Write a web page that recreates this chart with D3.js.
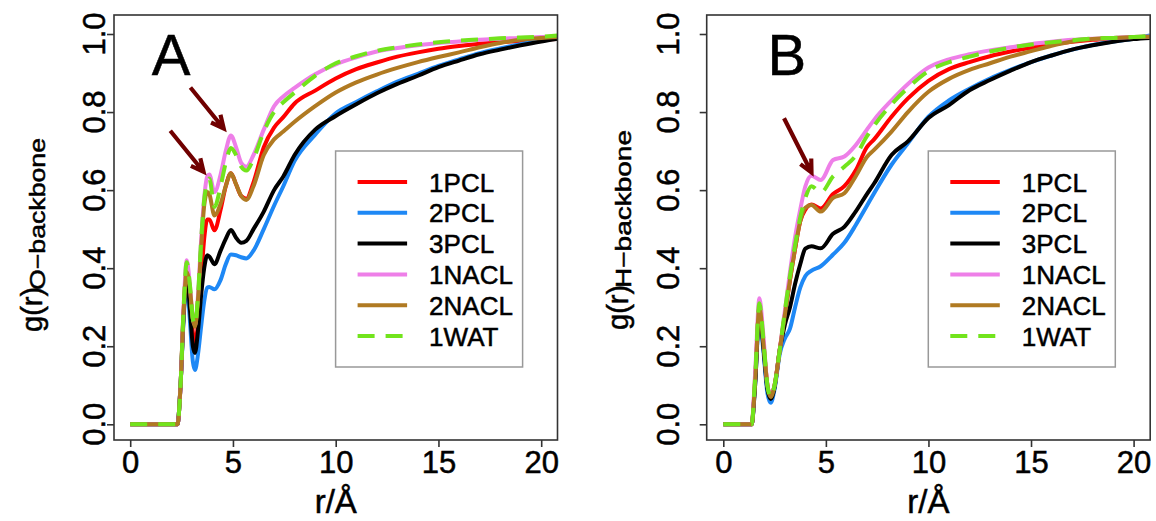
<!DOCTYPE html>
<html lang="en">
<head>
<meta charset="UTF-8" />
<title>g(r) backbone</title>
<script src="https://cdn.jsdelivr.net/npm/d3@7"></script>
<style>
  body { margin: 0; padding: 0; background: #fff; }
  svg text { font-family: "Liberation Sans", Arial, sans-serif; fill: #000; stroke: #000; stroke-width: 0.5px; }
</style>
</head>
<body>
<svg id="chart" width="1156" height="521"></svg>
<script>
// legend / series
const seriesNames = ["1PCL", "2PCL", "3PCL", "1NACL", "2NACL", "1WAT"];
const seriesColors = ["#ff0000", "#1e88f5", "#000000", "#ee7fe8", "#b07a22", "#72e41c"];
const xTicks = [0, 5, 10, 15, 20];
const yTicks = [0, 0.2, 0.4, 0.6, 0.8, 1.0];
const yTickLabels = ["0.0", "0.2", "0.4", "0.6", "0.8", "1.0"];

// panel A : g(r) O-backbone
const rA = [0, 2.3, 2.45, 2.6, 2.75, 2.9, 3.05, 3.15, 3.3, 3.45, 3.6, 3.75, 3.85, 4.1, 4.4, 4.65, 4.9, 5.15, 5.4, 5.65,
  6.0, 6.5, 7.0, 7.45, 8.0, 9.0, 10, 11, 12, 13, 14, 15, 16, 17, 18, 19, 20, 20.8];
const pcl1A = [0, 0, 0.10, 0.29, 0.40, 0.33, 0.235, 0.205, 0.26, 0.37, 0.475, 0.525, 0.525, 0.497, 0.55, 0.61, 0.643, 0.615, 0.585, 0.578,
  0.62, 0.71, 0.76, 0.787, 0.822, 0.855, 0.886, 0.91, 0.927, 0.942, 0.953, 0.962, 0.969, 0.975, 0.979, 0.983, 0.986, 0.987];
const pcl2A = [0, 0, 0.10, 0.27, 0.37, 0.27, 0.16, 0.139, 0.18, 0.25, 0.315, 0.35, 0.352, 0.346, 0.37, 0.41, 0.435, 0.433, 0.428, 0.425,
  0.445, 0.50, 0.56, 0.61, 0.675, 0.742, 0.797, 0.826, 0.853, 0.878, 0.898, 0.918, 0.935, 0.951, 0.963, 0.974, 0.985, 0.995];
const pcl3A = [0, 0, 0.10, 0.28, 0.38, 0.30, 0.20, 0.183, 0.24, 0.33, 0.40, 0.433, 0.43, 0.41, 0.445, 0.475, 0.498, 0.478, 0.465, 0.47,
  0.50, 0.545, 0.60, 0.635, 0.69, 0.755, 0.79, 0.82, 0.848, 0.872, 0.893, 0.915, 0.932, 0.948, 0.96, 0.971, 0.981, 0.988];
const nacl1A = [0, 0, 0.10, 0.30, 0.42, 0.36, 0.27, 0.255, 0.33, 0.47, 0.58, 0.635, 0.64, 0.595, 0.64, 0.70, 0.74, 0.71, 0.67, 0.66,
  0.69, 0.755, 0.815, 0.84, 0.862, 0.897, 0.922, 0.94, 0.955, 0.964, 0.971, 0.977, 0.981, 0.985, 0.988, 0.99, 0.992, 0.993];
const nacl2A = [0, 0, 0.10, 0.29, 0.39, 0.35, 0.27, 0.25, 0.32, 0.45, 0.56, 0.595, 0.59, 0.535, 0.565, 0.61, 0.643, 0.615, 0.585, 0.575,
  0.61, 0.69, 0.73, 0.75, 0.775, 0.815, 0.85, 0.876, 0.896, 0.913, 0.928, 0.941, 0.953, 0.966, 0.977, 0.985, 0.99, 0.992];
const wat1A = [0, 0, 0.10, 0.30, 0.415, 0.36, 0.27, 0.255, 0.33, 0.47, 0.575, 0.62, 0.63, 0.557, 0.61, 0.67, 0.708, 0.69, 0.66, 0.65,
  0.68, 0.75, 0.80, 0.825, 0.85, 0.893, 0.925, 0.943, 0.957, 0.966, 0.973, 0.979, 0.983, 0.986, 0.989, 0.991, 0.993, 0.996];

// panel B : g(r) H-backbone
const rB = [0, 1.38, 1.55, 1.76, 1.95, 2.15, 2.31, 2.5, 2.75, 3.0, 3.25, 3.5, 3.75, 4.0, 4.3, 4.75, 5.35, 5.9, 6.45, 7.0,
  7.35, 8.2, 9.0, 10, 11, 12, 13, 14, 15, 16, 17, 18, 19, 20, 20.8];
const pcl1B = [0, 0, 0.11, 0.30, 0.21, 0.10, 0.07, 0.10, 0.19, 0.28, 0.37, 0.45, 0.52, 0.55, 0.563, 0.553, 0.59, 0.61, 0.65, 0.71,
  0.73, 0.788, 0.835, 0.88, 0.91, 0.928, 0.943, 0.955, 0.965, 0.973, 0.98, 0.985, 0.988, 0.99, 0.99];
const pcl2B = [0, 0, 0.10, 0.28, 0.19, 0.08, 0.055, 0.09, 0.18, 0.22, 0.245, 0.30, 0.35, 0.38, 0.394, 0.405, 0.435, 0.465, 0.51, 0.56,
  0.592, 0.665, 0.72, 0.788, 0.83, 0.86, 0.886, 0.908, 0.928, 0.945, 0.96, 0.972, 0.981, 0.988, 0.996];
const pcl3B = [0, 0, 0.10, 0.29, 0.20, 0.09, 0.065, 0.095, 0.19, 0.255, 0.30, 0.36, 0.41, 0.45, 0.456, 0.451, 0.488, 0.506, 0.545, 0.59,
  0.617, 0.69, 0.725, 0.785, 0.818, 0.856, 0.882, 0.906, 0.928, 0.945, 0.96, 0.971, 0.98, 0.987, 0.99];
const nacl1B = [0, 0, 0.13, 0.323, 0.23, 0.10, 0.075, 0.10, 0.19, 0.29, 0.39, 0.48, 0.55, 0.61, 0.637, 0.626, 0.677, 0.686, 0.715, 0.755,
  0.78, 0.83, 0.872, 0.914, 0.935, 0.948, 0.958, 0.966, 0.974, 0.98, 0.985, 0.988, 0.99, 0.992, 0.993];
const nacl2B = [0, 0, 0.11, 0.30, 0.21, 0.10, 0.07, 0.10, 0.19, 0.28, 0.37, 0.45, 0.52, 0.555, 0.562, 0.545, 0.58, 0.592, 0.635, 0.685,
  0.703, 0.75, 0.80, 0.852, 0.885, 0.908, 0.925, 0.942, 0.956, 0.97, 0.981, 0.987, 0.99, 0.992, 0.993];
const wat1B = [0, 0, 0.12, 0.31, 0.22, 0.10, 0.07, 0.10, 0.19, 0.29, 0.38, 0.46, 0.53, 0.58, 0.61, 0.594, 0.635, 0.66, 0.688, 0.738,
  0.765, 0.82, 0.862, 0.905, 0.928, 0.942, 0.955, 0.965, 0.973, 0.979, 0.984, 0.988, 0.99, 0.992, 0.995];

// arrows [r0, g0, r1, g1]
const arrowsA = [[1.95, 0.752, 3.57, 0.647], [2.93, 0.863, 4.55, 0.758]];
const arrowsB = [[2.96, 0.784, 4.30, 0.645]];

const svg = d3.select("#chart");
svg.append("rect").attr("width", 1156).attr("height", 521).attr("fill", "#fff");

const panels = [
  {
    key: "A", letter: "A", letterR: 1.05, box: { x0: 114, x1: 557.5, y0: 15, y1: 440 }, xRange: [130.2, 541.2],
    r: rA, data: [pcl1A, pcl2A, pcl3A, nacl1A, nacl2A, wat1A], arrows: arrowsA,
    tickLabX: 105, ylabX: 42, subX: 45, gStart: 332, subStart: 290, sub: "O\u2212backbone", subLen: 152
  },
  {
    key: "B", letter: "B", letterR: 2.15, box: { x0: 706.7, x1: 1150.2, y0: 15, y1: 440 }, xRange: [723.3, 1133.6],
    r: rB, data: [pcl1B, pcl2B, pcl3B, nacl1B, nacl2B, wat1B], arrows: arrowsB,
    tickLabX: 679, ylabX: 628, subX: 631, gStart: 330, subStart: 288, sub: "H\u2212backbone", subLen: 158
  }
];

panels.forEach((p) => {
  const x = d3.scaleLinear().domain([0, 20]).range(p.xRange);
  const y = d3.scaleLinear().domain([0, 1]).range([424.3, 34]);
  const g = svg.append("g");

  g.append("clipPath").attr("id", "clip" + p.key)
    .append("rect")
    .attr("x", p.box.x0).attr("y", p.box.y0)
    .attr("width", p.box.x1 - p.box.x0).attr("height", p.box.y1 - p.box.y0);

  // curves, drawn in legend order
  const line = d3.line()
    .x((d) => x(d[0]))
    .y((d) => y(d[1]))
    .curve(d3.curveMonotoneX);

  const lines = g.append("g").attr("clip-path", "url(#clip" + p.key + ")");
  p.data.forEach((vals, i) => {
    lines.append("path")
      .datum(p.r.map((r, j) => [r, vals[j]]))
      .attr("d", line)
      .attr("fill", "none")
      .attr("stroke", seriesColors[i])
      .attr("stroke-width", 4)
      .attr("stroke-linejoin", "round")
      .attr("stroke-dasharray", seriesNames[i] === "1WAT" ? "17,11" : null);
  });

  // box
  g.append("rect")
    .attr("x", p.box.x0).attr("y", p.box.y0)
    .attr("width", p.box.x1 - p.box.x0).attr("height", p.box.y1 - p.box.y0)
    .attr("fill", "none").attr("stroke", "#333").attr("stroke-width", 1.6);

  // x axis
  const xa = g.append("g").attr("transform", "translate(0," + p.box.y1 + ")")
    .call(d3.axisBottom(x).tickValues(xTicks).tickSize(7).tickPadding(0).tickFormat(d3.format("d")));
  xa.select(".domain").remove();
  xa.selectAll("line").attr("stroke", "#333").attr("stroke-width", 1.6);
  xa.selectAll("text").attr("y", 33).attr("dy", null)
    .attr("fill", "#000")
    .style("font-size", "31px").style("font-family", "'Liberation Sans', Arial, sans-serif");

  // y axis (tick labels rotated like R)
  const ya = g.append("g").attr("transform", "translate(" + p.box.x0 + ",0)")
    .call(d3.axisLeft(y).tickValues(yTicks).tickSize(7).tickFormat((d, i) => yTickLabels[i]));
  ya.select(".domain").remove();
  ya.selectAll("line").attr("stroke", "#333").attr("stroke-width", 1.6);
  ya.selectAll("text").remove();
  g.selectAll(".ytl").data(yTicks).enter().append("text")
    .attr("transform", (d) => "translate(" + p.tickLabX + "," + y(d) + ") rotate(-90)")
    .attr("text-anchor", "middle")
    .style("font-size", "31px")
    .text((d, i) => yTickLabels[i]);

  // axis titles
  g.append("text")
    .attr("x", (p.box.x0 + p.box.x1) / 2).attr("y", 513)
    .attr("text-anchor", "middle").style("font-size", "33px")
    .text("r/\u00c5");
  g.append("text")
    .attr("transform", "translate(" + p.ylabX + "," + p.gStart + ") rotate(-90)")
    .style("font-size", "29px")
    .text("g(r)");
  g.append("text")
    .attr("transform", "translate(" + p.subX + "," + p.subStart + ") rotate(-90)")
    .style("font-size", "22px")
    .attr("textLength", p.subLen).attr("lengthAdjust", "spacingAndGlyphs")
    .text(p.sub);

  // panel letter
  g.append("text")
    .attr("x", x(p.letterR)).attr("y", y(0.895))
    .style("font-size", "58px")
    .text(p.letter);

  // arrows
  p.arrows.forEach((a) => {
    const x0 = x(a[0]), y0 = y(a[1]), x1 = x(a[2]), y1 = y(a[3]);
    const ang = Math.atan2(y1 - y0, x1 - x0);
    const hl = 14, spread = Math.PI / 7;
    const path = d3.path();
    path.moveTo(x0, y0);
    path.lineTo(x1, y1);
    path.moveTo(x1 - hl * Math.cos(ang - spread), y1 - hl * Math.sin(ang - spread));
    path.lineTo(x1, y1);
    path.lineTo(x1 - hl * Math.cos(ang + spread), y1 - hl * Math.sin(ang + spread));
    g.append("path").attr("d", path.toString())
      .attr("fill", "none").attr("stroke", "#700000")
      .attr("stroke-width", 4.2).attr("stroke-linecap", "butt").attr("stroke-linejoin", "miter");
  });

  // legend
  const lx = p.box.x0 + 221.6, ly = 151;
  const leg = g.append("g").attr("transform", "translate(" + lx + "," + ly + ")");
  leg.append("rect").attr("width", 187).attr("height", 216)
    .attr("fill", "#fff").attr("stroke", "#999").attr("stroke-width", 1.5);
  seriesNames.forEach((name, i) => {
    const cy = 31 + i * 30.8;
    leg.append("line")
      .attr("x1", 22).attr("x2", 71.5).attr("y1", cy).attr("y2", cy)
      .attr("stroke", seriesColors[i]).attr("stroke-width", 4)
      .attr("stroke-dasharray", name === "1WAT" ? "17,11" : null);
    leg.append("text")
      .attr("x", 93.5).attr("y", cy + 9.5)
      .style("font-size", "26px")
      .text(name);
  });
});
</script>
</body>
</html>
